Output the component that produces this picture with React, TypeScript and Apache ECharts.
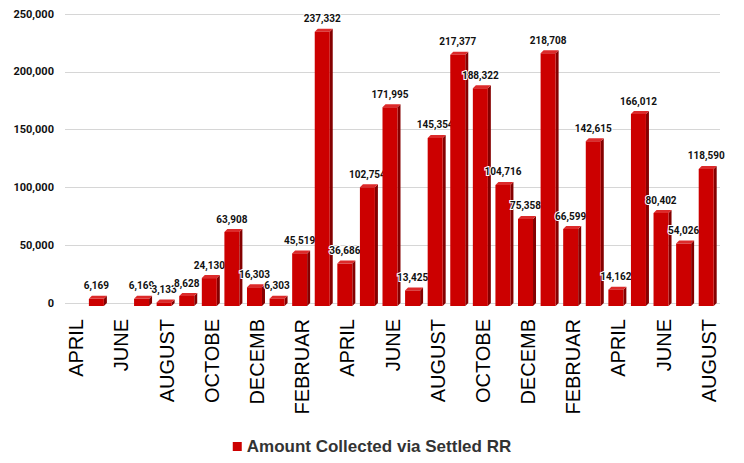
import React, { useEffect, useRef } from "react";
import * as echarts from "echarts";

const categories = [
  "APRIL", "MAY", "JUNE", "JULY", "AUGUST", "SEPTEMBER", "OCTOBER", "NOVEMBER", "DECEMBER", "JANUARY", "FEBRUARY", "MARCH",
  "APRIL", "MAY", "JUNE", "JULY", "AUGUST", "SEPTEMBER", "OCTOBER", "NOVEMBER", "DECEMBER", "JANUARY", "FEBRUARY", "MARCH",
  "APRIL", "MAY", "JUNE", "JULY", "AUGUST",
];
const tickLabelText: Record<string, string> = {
  OCTOBER: "OCTOBE",
  DECEMBER: "DECEMB",
  FEBRUARY: "FEBRUAR",
};
const values: (number | null)[] = [
  null, 6169, null, 6169, 3133, 8628, 24130, 63908, 16303, 6303, 45519, 237332,
  36686, 102754, 171995, 13425, 145354, 217377, 188322, 104716, 75358, 218708, 66599, 142615,
  14162, 166012, 80402, 54026, 118590,
];
const seriesName = "Amount Collected via Settled RR";
const yTicks = { min: 0, max: 250000, interval: 50000 };

const fmt = (v: number) => v.toLocaleString("en-US");

export default function App() {
  const ref = useRef<HTMLDivElement>(null);
  useEffect(() => {
    if (!ref.current) return;
    const chart = echarts.init(ref.current, null, { renderer: "svg" });
    const data = values
      .map((v, i) => (v == null ? null : [i, v]))
      .filter((d) => d != null);
    const D = 3;
    const W = 15;
    chart.setOption({
      animation: false,
      grid: { left: 65, right: 24, top: 14, bottom: 160, containLabel: false },
      legend: {
        bottom: 3,
        left: "center",
        itemWidth: 9,
        itemHeight: 9,
        itemGap: 10,
        icon: "rect",
        textStyle: { fontFamily: "Liberation Sans", fontWeight: "bold", fontSize: 17, color: "#333" },
        data: [{ name: seriesName, itemStyle: { color: "#cc0000" } }],
      },
      xAxis: {
        type: "category",
        data: categories,
        axisTick: { show: false },
        axisLine: {
          show: true,
          lineStyle: { color: "#a6a6a6", width: 2, shadowColor: "#e8e8e8", shadowOffsetY: 4, shadowBlur: 0 },
        },
        axisLabel: {
          interval: 1,
          rotate: 90,
          margin: 16,
          fontFamily: "Liberation Sans",
          fontSize: 20,
          color: "#000",
          formatter: (v: string) => tickLabelText[v] || v,
        },
      },
      yAxis: {
        type: "value",
        min: yTicks.min,
        max: yTicks.max,
        interval: yTicks.interval,
        axisLine: { show: false },
        axisTick: { show: false },
        splitLine: { lineStyle: { color: "#d6d6d6", width: 1 } },
        axisLabel: {
          margin: 11,
          fontFamily: "Roboto",
          fontWeight: "bold",
          fontSize: 11,
          color: "#111",
          formatter: (v: number) => fmt(v),
        },
      },
      series: [
        {
          name: seriesName,
          type: "custom",
          itemStyle: { color: "#cc0000" },
          data,
          renderItem: (params: any, api: any) => {
            const idx = api.value(0);
            const v = api.value(1);
            const [cx, yv] = api.coord([idx, v]);
            const [, y0] = api.coord([idx, 0]);
            const xc = cx - 2.5;
            const x0 = xc - W / 2;
            const x1 = xc + W / 2;
            const top = yv + D;
            const bot = y0 + D;
            return {
              type: "group",
              children: [
                {
                  type: "polygon",
                  shape: { points: [[x1, top], [x1 + D, top - D], [x1 + D, bot - D], [x1, bot]] },
                  style: { fill: "#850000" },
                },
                {
                  type: "polygon",
                  shape: { points: [[x0, top], [x0 + D, top - D], [x1 + D, top - D], [x1, top]] },
                  style: { fill: "#dc2a2a" },
                },
                {
                  type: "rect",
                  shape: { x: x0, y: top, width: W, height: bot - top },
                  style: { fill: "#cc0000" },
                },
                {
                  type: "text",
                  style: {
                    text: fmt(v),
                    x: xc,
                    y: yv - 5,
                    textAlign: "center",
                    textVerticalAlign: "bottom",
                    fill: "#111",
                    stroke: "#fff",
                    lineWidth: 2,
                    font: "bold 10px Roboto",
                  },
                },
              ],
            };
          },
        },
      ],
    });
    return () => chart.dispose();
  }, []);
  return (
    <div
      ref={ref}
      style={{ position: "absolute", left: 0, top: 0, width: 744, height: 463 }}
    />
  );
}
